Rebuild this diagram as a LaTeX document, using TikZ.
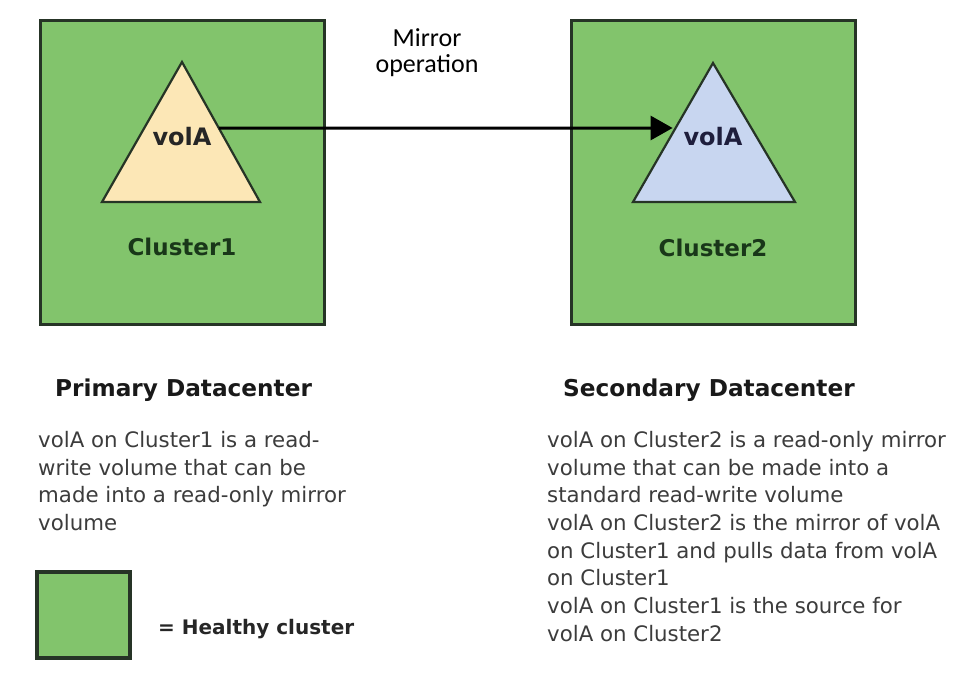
\documentclass[tikz,border=0pt]{standalone}
\usepackage{fontspec}
\setmainfont{DejaVu Sans}
\newfontfamily\calfont{Carlito}
\usetikzlibrary{arrows.meta,calc}
\definecolor{boxgreen}{RGB}{130,196,108}
\definecolor{boxline}{RGB}{38,52,38}
\definecolor{triyellow}{RGB}{252,231,182}
\definecolor{triblue}{RGB}{200,214,240}
\definecolor{clustertext}{RGB}{25,55,25}
\definecolor{bodytext}{RGB}{60,60,60}
\tikzset{
  clusterbox/.style={draw=boxline, fill=boxgreen, line width=3pt, minimum width=284pt, minimum height=304pt, inner sep=0pt},
  legendbox/.style={draw=boxline, fill=boxgreen, line width=4pt, minimum width=93pt, minimum height=86pt, inner sep=0pt},
  tri/.style={draw=boxline, line width=2.2pt, line join=miter},
  vollabel/.style={font=\bfseries\fontsize{24}{28}\selectfont, inner sep=0pt, anchor=base},
  clusterlabel/.style={font=\bfseries\fontsize{23}{27}\selectfont, text=clustertext, inner sep=0pt, anchor=base},
  heading/.style={font=\bfseries\fontsize{23.2}{28}\selectfont, text=black!90, inner sep=0pt, anchor=base west},
  bodybox/.style={font=\fontsize{21.3}{27.7}\selectfont, text=bodytext, inner sep=0pt, anchor=north west, align=left},
  mirrorarrow/.style={-{Triangle[length=22pt,width=24pt]}, line width=3pt, shorten >=3pt}
}
\begin{document}
\begin{tikzpicture}[x=1pt,y=-1pt]
\useasboundingbox[fill=white] (0,0) rectangle (956,694);

% cluster boxes
\node[clusterbox] (c1) at (182,172) {};
\node[clusterbox] (c2) at (713.5,172.5) {};

% triangles
\coordinate (LT) at (182,62);
\coordinate (LL) at (102,202);
\coordinate (LR) at (260,202);
\coordinate (RT) at (713,63);
\coordinate (RL) at (633,202);
\coordinate (RR) at (795,202);
\draw[tri, fill=triyellow] (LT) -- (LR) -- (LL) -- cycle;
\draw[tri, fill=triblue] (RT) -- (RR) -- (RL) -- cycle;

\node[vollabel, text=black!85] (v1) at (182,145) {volA};
\node[vollabel, text={rgb,255:red,30;green,30;blue,60}] (v2) at (713,145) {volA};

\node[clusterlabel] (cl1) at (182,255.5) {Cluster1};
\node[clusterlabel] (cl2) at (713,256) {Cluster2};

% arrow
\coordinate (a1) at ($(LT)!0.4714!(LR)$);
\coordinate (a2) at ($(RT)!0.4676!(RL)$);
\draw[mirrorarrow] (a1) -- (a2);

\node[font=\calfont\fontsize{26}{25.5}\selectfont, align=center, inner sep=0pt, anchor=north] (mir) at (427,28.8) {Mirror\\operation};

% headings
\node[heading] (h1) at (55,396) {Primary Datacenter};
\node[heading] (h2) at (563,396) {Secondary Datacenter};

% body texts
\node[bodybox] (t1) at (38,431) {volA on Cluster1 is a read-\\write volume that can be\\made into a read-only mirror\\volume};
\node[bodybox] (t2) at (547,431) {volA on Cluster2 is a read-only mirror\\volume that can be made into a\\standard read-write volume\\volA on Cluster2 is the mirror of volA\\on Cluster1 and pulls data from volA\\on Cluster1\\volA on Cluster1 is the source for\\volA on Cluster2};

% legend
\node[legendbox] (lg) at (83.5,615) {};
\node[font=\bfseries\fontsize{20}{25}\selectfont, text=black!85, inner sep=0pt, anchor=base west] (lgt) at (158,634.5) {= Healthy cluster};
\end{tikzpicture}
\end{document}
